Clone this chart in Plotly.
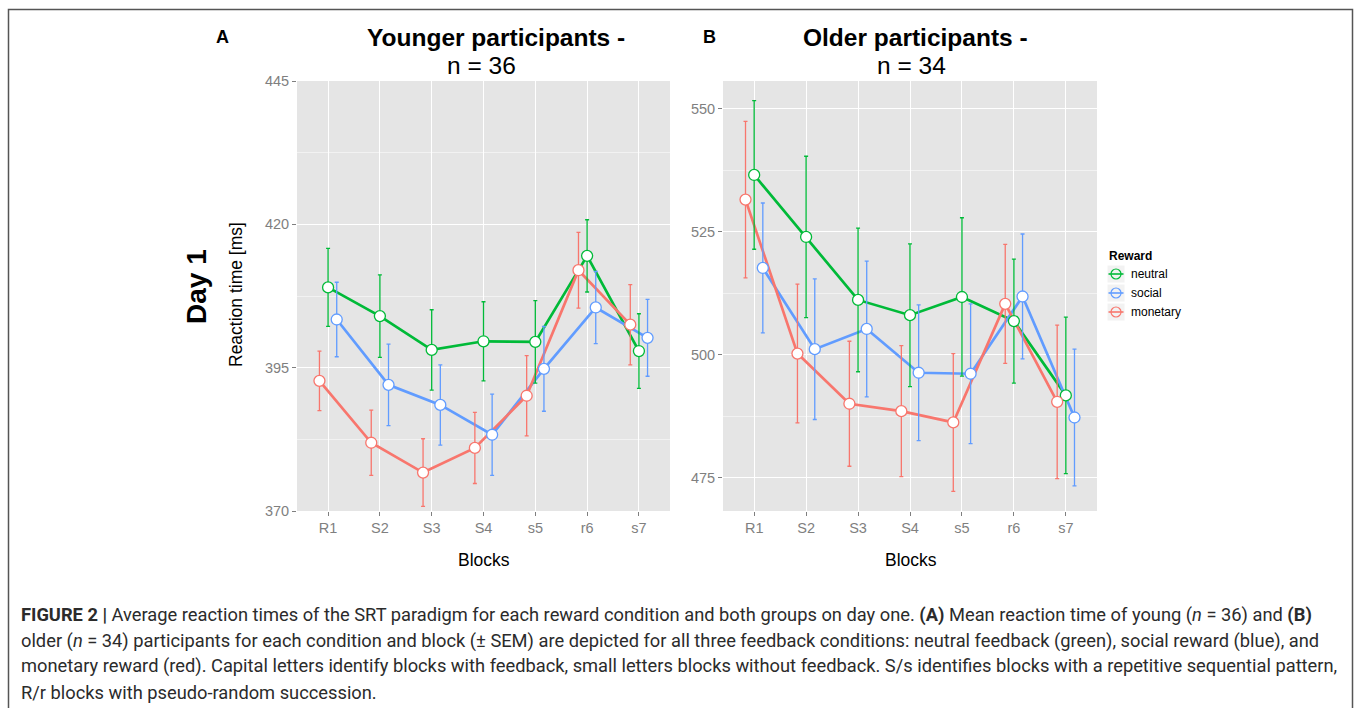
import plotly.graph_objects as go

# ---------------- data ----------------
blocks = ["R1", "S2", "S3", "S4", "s5", "r6", "s7"]
series_names = ["neutral", "social", "monetary"]

young_neutral = [409.0, 404.0, 398.1, 399.6, 399.5, 414.5, 397.9]
young_social = [403.4, 392.0, 388.5, 383.3, 394.8, 405.5, 400.2]
young_monetary = [392.7, 381.9, 376.7, 381.0, 390.1, 412.0, 402.5]
young_neutral_sem = [6.8, 7.2, 7.0, 6.9, 7.2, 6.3, 6.5]
young_social_sem = [6.5, 7.1, 7.0, 7.1, 7.4, 6.3, 6.7]
young_monetary_sem = [5.2, 5.7, 5.9, 6.2, 7.0, 6.6, 7.0]

older_neutral = [536.5, 523.9, 511.1, 508.0, 511.7, 506.8, 491.7]
older_social = [517.6, 501.1, 505.2, 496.3, 496.1, 511.8, 487.2]
older_monetary = [531.5, 500.2, 490.0, 488.5, 486.2, 510.3, 490.4]
older_neutral_sem = [15.1, 16.4, 14.6, 14.5, 16.1, 12.6, 15.9]
older_social_sem = [13.2, 14.3, 13.8, 13.8, 14.2, 12.7, 13.9]
older_monetary_sem = [15.9, 14.1, 12.7, 13.3, 14.0, 12.1, 15.6]

young_ticks = [370, 395, 420, 445]
older_ticks = [475, 500, 525, 550]

# ---------------- style ----------------
W, H = 1357, 708
colors = {"neutral": "#00BA38", "social": "#619CFF", "monetary": "#F8766D"}
dodge = {"neutral": 0.0, "social": 1 / 6, "monetary": -1 / 6}
FONT = "Liberation Sans, Arial, Helvetica, sans-serif"
TICK_GREY = "#7F7F7F"


def px(x):
    return x / W


def py(y):
    return 1 - y / H


panels = [
    dict(xa="x", ya="y",
         means={"neutral": young_neutral, "social": young_social, "monetary": young_monetary},
         sems={"neutral": young_neutral_sem, "social": young_social_sem, "monetary": young_monetary_sem}),
    dict(xa="x2", ya="y2",
         means={"neutral": older_neutral, "social": older_social, "monetary": older_monetary},
         sems={"neutral": older_neutral_sem, "social": older_social_sem, "monetary": older_monetary_sem}),
]

fig = go.Figure()
xpos_base = list(range(1, len(blocks) + 1))

for p in panels:
    for s in series_names:
        xs = [i + dodge[s] for i in xpos_base]
        fig.add_trace(go.Scatter(x=xs, y=p["means"][s], mode="lines", xaxis=p["xa"], yaxis=p["ya"],
                                 line=dict(color=colors[s], width=2.7), showlegend=False, hoverinfo="skip"))
    for s in series_names:
        xs = [i + dodge[s] for i in xpos_base]
        fig.add_trace(go.Scatter(x=xs, y=p["means"][s], mode="markers", xaxis=p["xa"], yaxis=p["ya"],
                                 marker=dict(size=1, color="rgba(0,0,0,0)"),
                                 error_y=dict(type="data", array=p["sems"][s], symmetric=True,
                                              color=colors[s], thickness=1.3, width=2),
                                 showlegend=False, hoverinfo="skip"))
    for s in series_names:
        xs = [i + dodge[s] for i in xpos_base]
        fig.add_trace(go.Scatter(x=xs, y=p["means"][s], mode="markers", xaxis=p["xa"], yaxis=p["ya"],
                                 marker=dict(size=11, color="white", symbol="circle",
                                             line=dict(color=colors[s], width=1.3)),
                                 showlegend=False, name=s))

axis_common = dict(showline=False, zeroline=False, ticks="outside", ticklen=4, tickwidth=1,
                   tickcolor=TICK_GREY, gridcolor="white", gridwidth=1.4, automargin=False,
                   tickfont=dict(family=FONT, size=14.5, color=TICK_GREY))

xcommon = dict(axis_common, tickmode="array", tickvals=xpos_base, ticktext=blocks, range=[0.4, 7.6])

fig.update_layout(
    template="none",
    width=W, height=H, autosize=False,
    margin=dict(l=0, r=0, t=0, b=0, pad=0),
    paper_bgcolor="white", plot_bgcolor="#E5E5E5",
    xaxis=dict(xcommon, domain=[px(297), px(670)], anchor="y"),
    yaxis=dict(axis_common, domain=[py(511), py(81)], anchor="x", range=[370, 445],
               tickmode="array", tickvals=young_ticks,
               minor=dict(showgrid=True, gridcolor="#F2F2F2", gridwidth=1, dtick=12.5, tick0=370)),
    xaxis2=dict(xcommon, domain=[px(723), px(1097)], anchor="y2"),
    yaxis2=dict(axis_common, domain=[py(511), py(81)], anchor="x2", range=[468.2, 555.6],
                tickmode="array", tickvals=older_ticks,
                minor=dict(showgrid=True, gridcolor="#F2F2F2", gridwidth=1, dtick=12.5, tick0=475)),
    showlegend=False,
)

ann = []


def text(x, y, t, size, bold=False, color="black", angle=0, xanchor="center", font=FONT):
    ann.append(dict(x=px(x), y=py(y), xref="paper", yref="paper", text=("<b>%s</b>" % t) if bold else t,
                    showarrow=False, xanchor=xanchor, yanchor="middle", textangle=angle,
                    font=dict(family=font, size=size, color=color)))


text(223, 37, "A", 18, bold=True)
text(709, 37, "B", 18, bold=True)
text(496, 37, "Younger participants -", 24.5, bold=True)
text(481, 66, "n = 36", 24.5)
text(915, 37, "Older participants -", 24.5, bold=True)
text(911, 66, "n = 34", 24.5)
text(197, 287, "Day 1", 28, bold=True, angle=-90)
text(236, 295, "Reaction time [ms]", 17.5, angle=-90)
text(484, 560, "Blocks", 17.5)
text(911, 560, "Blocks", 17.5)

# legend (manual)
text(1107, 256, "Reward", 12, bold=True, xanchor="left")
shapes = []
legend_y = [274, 293, 312]
for s, yc in zip(series_names, legend_y):
    shapes.append(dict(type="rect", xref="paper", yref="paper", x0=px(1107), x1=px(1125),
                       y0=py(yc + 9), y1=py(yc - 9), fillcolor="#F2F2F2", line=dict(color="white", width=1)))
    shapes.append(dict(type="line", xref="paper", yref="paper", x0=px(1108.5), x1=px(1123.5),
                       y0=py(yc), y1=py(yc), line=dict(color=colors[s], width=1.6)))
    shapes.append(dict(type="circle", xref="paper", yref="paper", x0=px(1111), x1=px(1121),
                       y0=py(yc + 5), y1=py(yc - 5), line=dict(color=colors[s], width=1.2)))
    text(1129, yc, s, 12, xanchor="left")

# frame
shapes.append(dict(type="path", xref="paper", yref="paper",
                   path="M %f,%f L %f,%f L %f,%f L %f,%f" % (px(8.5), py(720), px(8.5), py(9.5),
                                                            px(1352.5), py(9.5), px(1352.5), py(720)),
                   line=dict(color="#555555", width=1.5)))

# caption
CAP = "Roboto, Liberation Sans, Arial, sans-serif"
cap_lines = [
    "<b>FIGURE 2 |</b> Average reaction times of the SRT paradigm for each reward condition and both groups on day one. "
    "<b>(A)</b> Mean reaction time of young (<i>n</i> = 36) and <b>(B)</b>",
    "older (<i>n</i> = 34) participants for each condition and block (± SEM) are depicted for all three feedback "
    "conditions: neutral feedback (green), social reward (blue), and",
    "monetary reward (red). Capital letters identify blocks with feedback, small letters blocks without feedback. "
    "S/s identifies blocks with a repetitive sequential pattern,",
    "R/r blocks with pseudo-random succession.",
]
for i, line in enumerate(cap_lines):
    text(19, 615 + i * 25.7, line, 18.3, color="#2B2B2B", xanchor="left", font=CAP)

fig.update_layout(annotations=ann, shapes=shapes)
fig.write_html("out.html",
               config={"displayModeBar": False},
               post_script="document.body.style.margin='0px';document.body.style.padding='0px';"
                           "document.body.style.overflow='hidden';")
